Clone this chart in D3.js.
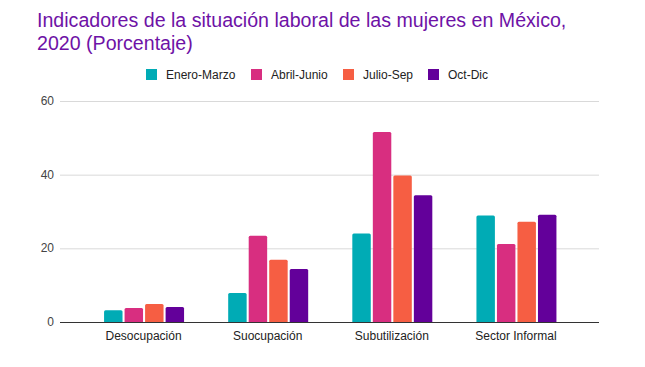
<!DOCTYPE html>
<html>
  <head>
    <script src="https://d3js.org/d3.v7.min.js" charset="utf-8"></script>
    <meta charset="UTF-8">
    <title>Indicadores laborales mujeres</title>
    <style>
      body { margin: 0; background: #fff; }
      text { font-family: "Liberation Sans", Arial, sans-serif; }
    </style>
  </head>
  <body>
    <svg class="chart"></svg>
    <script type="text/javascript">

      var categories = ["Desocupación", "Suocupación", "Subutilización", "Sector Informal"];
      var series = ["Enero-Marzo", "Abril-Junio", "Julio-Sep", "Oct-Dic"];
      var eneroMarzo = [3.2, 7.9, 24.0, 28.9];
      var abrilJunio = [3.8, 23.4, 51.6, 21.2];
      var julioSep   = [4.9, 16.9, 39.8, 27.2];
      var octDic     = [4.1, 14.4, 34.4, 29.1];
      var yTicks = [0, 20, 40, 60];
      var colors = ["#00abb5", "#d82e80", "#f65e43", "#63009a"];

      var values = [eneroMarzo, abrilJunio, julioSep, octDic];

      var width = 645,
          height = 367;

      var chart = d3.select(".chart")
          .attr("width", width)
          .attr("height", height);

      // title
      var title = chart.append("text")
          .attr("fill", "#6e12a6")
          .style("font-size", "19.6px");
      title.append("tspan").attr("x", 37).attr("y", 27)
          .text("Indicadores de la situación laboral de las mujeres en México,");
      title.append("tspan").attr("x", 37).attr("y", 50)
          .text("2020 (Porcentaje)");

      var y = d3.scaleLinear().domain([0, 60]).range([322, 101]);
      var x0 = d3.scaleBand().domain(categories).range([81.5, 578]).paddingInner(0).paddingOuter(0);
      var x1 = d3.scaleBand().domain(series).range([-39.5, 40.5]).paddingInner(0.1);

      // gridlines
      chart.append("g")
          .selectAll("line")
          .data(yTicks.filter(function(d) { return d > 0; }))
          .enter().append("line")
          .attr("x1", 60).attr("x2", 599)
          .attr("y1", function(d) { return y(d) + 0.5; })
          .attr("y2", function(d) { return y(d) + 0.5; })
          .attr("stroke", "#d9d9d9")
          .attr("stroke-width", 1);

      chart.append("g")
          .selectAll("text")
          .data(yTicks)
          .enter().append("text")
          .attr("x", 54)
          .attr("y", function(d) { return y(d) + 4; })
          .attr("text-anchor", "end")
          .attr("fill", "#444")
          .style("font-size", "12px")
          .text(function(d) { return d; });

      // bars
      var groups = chart.append("g")
          .selectAll("g")
          .data(categories)
          .enter().append("g")
          .attr("transform", function(d) { return "translate(" + (x0(d) + x0.bandwidth() / 2) + ",0)"; });

      groups.selectAll("path")
          .data(function(d, i) { return series.map(function(s, j) { return {s: s, j: j, v: values[j][i]}; }); })
          .enter().append("path")
          .attr("fill", function(d) { return colors[d.j]; })
          .attr("d", function(d) {
              var bx = x1(d.s), bw = x1.bandwidth(), top = y(d.v), bot = y(0), r = 1.5;
              return "M" + bx + "," + bot + "V" + (top + r) +
                  "Q" + bx + "," + top + " " + (bx + r) + "," + top +
                  "H" + (bx + bw - r) +
                  "Q" + (bx + bw) + "," + top + " " + (bx + bw) + "," + (top + r) +
                  "V" + bot + "Z";
          });

      // baseline
      chart.append("line")
          .attr("x1", 60).attr("x2", 599)
          .attr("y1", y(0) + 0.5).attr("y2", y(0) + 0.5)
          .attr("stroke", "#333")
          .attr("stroke-width", 1);

      // category labels
      chart.append("g")
          .selectAll("text")
          .data(categories)
          .enter().append("text")
          .attr("x", function(d) { return x0(d) + x0.bandwidth() / 2; })
          .attr("y", 340)
          .attr("text-anchor", "middle")
          .attr("fill", "#222")
          .style("font-size", "12px")
          .text(function(d) { return d; });

      // legend
      var legendX = [146, 251, 343, 428];
      var legend = chart.append("g")
          .selectAll("g")
          .data(series)
          .enter().append("g")
          .attr("transform", function(d, i) { return "translate(" + legendX[i] + ",69)"; });

      legend.append("rect")
          .attr("width", 11).attr("height", 11)
          .attr("fill", function(d, i) { return colors[i]; });

      legend.append("text")
          .attr("x", 20)
          .attr("y", 10)
          .attr("fill", "#222")
          .style("font-size", "12px")
          .text(function(d) { return d; });

    </script>
  </body>
</html>
